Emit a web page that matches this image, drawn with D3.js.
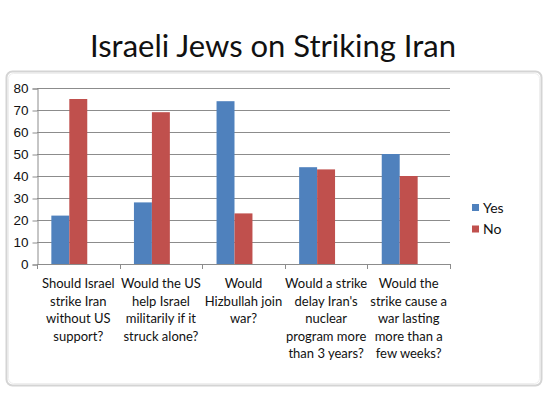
<!DOCTYPE html>
<html>
<head>
<meta charset="utf-8">
<script src="https://cdn.jsdelivr.net/npm/d3@7"></script>
<style>
  body { margin: 0; background: #fff; }
  svg { display: block; font-family: Lato, "Open Sans", sans-serif; }
</style>
</head>
<body>
<script>
// chart data
var questions = [
  ["Should Israel", "strike Iran", "without US", "support?"],
  ["Would the US", "help Israel", "militarily if it", "struck alone?"],
  ["Would", "Hizbullah join", "war?"],
  ["Would a strike", "delay Iran's", "nuclear", "program more", "than 3 years?"],
  ["Would the", "strike cause a", "war lasting", "more than a", "few weeks?"]
];
var yesValues = [22, 28, 74, 44, 50];
var noValues = [75, 69, 23, 43, 40];
var seriesNames = ["Yes", "No"];
var yTicks = [0, 10, 20, 30, 40, 50, 60, 70, 80];

var colors = ["#4f81bd", "#c0504d"];

var width = 550,
    height = 400;

var svg = d3.select("body")
    .append("svg")
    .attr("width", width)
    .attr("height", height);

// title
svg.append("text")
    .attr("x", 273)
    .attr("y", 57)
    .attr("text-anchor", "middle")
    .style("font-size", "31px")
    .style("fill", "#111")
    .text("Israeli Jews on Striking Iran");

// chart frame (Excel style rounded border)
svg.append("rect")
    .attr("x", 6.5).attr("y", 71.5)
    .attr("width", 535).attr("height", 314)
    .attr("rx", 6)
    .style("fill", "none")
    .style("stroke", "#d4d4d4")
    .style("stroke-width", 2);
svg.append("rect")
    .attr("x", 8.5).attr("y", 73.5)
    .attr("width", 531).attr("height", 310)
    .attr("rx", 5)
    .style("fill", "#fff")
    .style("stroke", "#efefef")
    .style("stroke-width", 1);

var margin = {left: 37, right: 100, top: 88, bottom: 136};

var x = d3.scaleBand()
    .domain(d3.range(questions.length))
    .range([margin.left, width - margin.right])
    .padding(0);

var y = d3.scaleLinear()
    .domain([0, 80])
    .range([height - margin.bottom, margin.top]);

var sub = d3.scaleBand()
    .domain(seriesNames)
    .range([0, x.bandwidth()])
    .paddingInner(0)
    .paddingOuter(1.3);

// gridlines
svg.append("g")
    .selectAll("line")
    .data(yTicks.slice(1))
    .enter().append("line")
    .attr("x1", margin.left)
    .attr("x2", width - margin.right)
    .attr("y1", function(d) { return Math.round(y(d)) + 0.5; })
    .attr("y2", function(d) { return Math.round(y(d)) + 0.5; })
    .style("stroke", "#8c8c8c")
    .style("stroke-width", 1);

// y axis
var yAxis = svg.append("g")
    .attr("transform", "translate(" + (margin.left + 0.5) + ",0.5)")
    .call(d3.axisLeft(y).tickValues(yTicks).tickSize(5).tickPadding(4));
yAxis.select(".domain").style("stroke", "#8c8c8c");
yAxis.selectAll(".tick line").style("stroke", "#8c8c8c");
yAxis.selectAll(".tick text")
    .style("font-size", "13.5px")
    .style("fill", "#111");

// bars
var rows = questions.map(function(q, i) {
    return [{s: "Yes", v: yesValues[i]}, {s: "No", v: noValues[i]}];
});

var groups = svg.append("g")
    .selectAll("g")
    .data(rows)
    .enter().append("g")
    .attr("transform", function(d, i) { return "translate(" + (x(i) - 9) + ",0)"; });

groups.selectAll("rect")
    .data(function(d) { return d; })
    .enter().append("rect")
    .attr("x", function(d) { return sub(d.s); })
    .attr("width", sub.bandwidth())
    .attr("y", function(d) { return y(d.v); })
    .attr("height", function(d) { return y(0) - y(d.v); })
    .style("fill", function(d, i) { return colors[i]; });

// x axis with ticks between categories
var xEdges = d3.range(questions.length + 1).map(function(i) {
    return margin.left + i * x.bandwidth();
});
svg.append("line")
    .attr("x1", margin.left).attr("x2", width - margin.right)
    .attr("y1", y(0) + 0.5).attr("y2", y(0) + 0.5)
    .style("stroke", "#8c8c8c");
svg.append("g")
    .selectAll("line")
    .data(xEdges)
    .enter().append("line")
    .attr("x1", function(d) { return Math.round(d) + 0.5; })
    .attr("x2", function(d) { return Math.round(d) + 0.5; })
    .attr("y1", y(0))
    .attr("y2", y(0) + 5)
    .style("stroke", "#8c8c8c");

// category labels
var labels = svg.append("g")
    .selectAll("text")
    .data(questions)
    .enter().append("text")
    .attr("text-anchor", "middle")
    .attr("x", function(d, i) { return x(i) + x.bandwidth() / 2; })
    .attr("y", y(0) + 24)
    .style("font-size", "13px")
    .style("fill", "#111");
labels.selectAll("tspan")
    .data(function(d) { return d; })
    .enter().append("tspan")
    .attr("x", function() { return this.parentNode.getAttribute("x"); })
    .attr("dy", function(d, i) { return i === 0 ? 0 : 17.5; })
    .text(function(d) { return d; });

// legend
var legend = svg.append("g")
    .selectAll("g")
    .data(seriesNames)
    .enter().append("g")
    .attr("transform", function(d, i) { return "translate(472," + (204 + i * 21.5) + ")"; });
legend.append("rect")
    .attr("width", 7).attr("height", 7)
    .style("fill", function(d, i) { return colors[i]; });
legend.append("text")
    .attr("x", 11)
    .attr("y", 8.5)
    .style("font-size", "14px")
    .style("fill", "#111")
    .text(function(d) { return d; });
</script>
</body>
</html>
